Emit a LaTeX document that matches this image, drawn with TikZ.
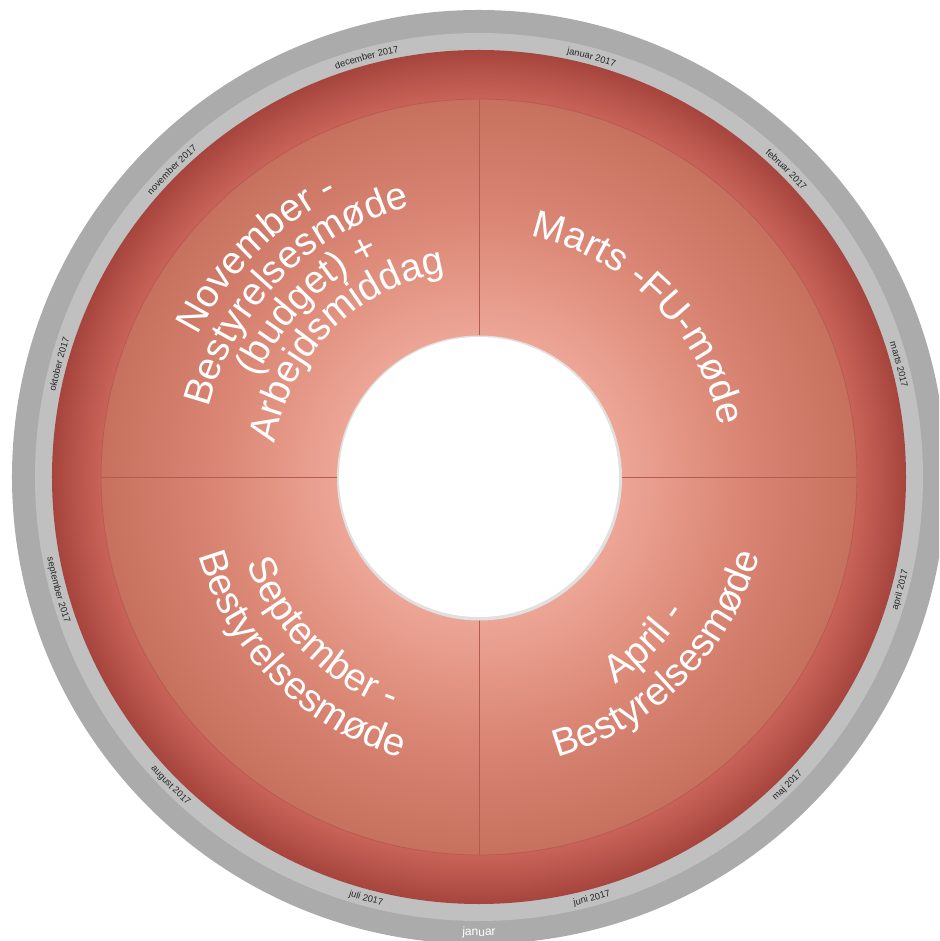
\documentclass[tikz,border=0pt]{standalone}
\usepackage{fontspec}
\setmainfont{Liberation Sans}
\usetikzlibrary{decorations.text}
\pgfdeclareradialshading{diskshade}{\pgfpoint{0bp}{0bp}}{rgb(0bp)=(.93,.62,.56); rgb(18bp)=(.85,.5,.45); rgb(22.1bp)=(.79,.39,.35); rgb(25bp)=(.65,.27,.24); rgb(50bp)=(.65,.27,.24)}
\pgfdeclareradialshading{quadshade}{\pgfpoint{0bp}{0bp}}{rgb(0bp)=(.95,.68,.62); rgb(9.3bp)=(.93,.65,.59); rgb(17bp)=(.86,.53,.46); rgb(25bp)=(.78,.44,.37); rgb(50bp)=(.78,.44,.37)}
\definecolor{ringdark}{RGB}{171,171,171}
\definecolor{ringlight}{RGB}{192,192,192}
\definecolor{divline}{RGB}{180,92,82}
\newcommand\qfont{\fontsize{29}{29}\selectfont\color{white}}
\newcommand\mfont{\fontsize{7}{7}\selectfont\color{black!85}}
\newcommand\bfont{\fontsize{9}{9}\selectfont\color{white}}
% clockwise (upper half) label: angle, radius, format, text
\newcommand\cwlabel[4]{%
  \path[decorate,decoration={text along path,text align=center,text={|#3|#4}}]
    ({#1+90}:#2) arc[start angle={#1+90}, end angle={#1-90}, radius=#2];}
% counterclockwise (lower half) label
\newcommand\ccwlabel[4]{%
  \path[decorate,decoration={text along path,text align=center,text={|#3|#4}}]
    ({#1-90}:#2) arc[start angle={#1-90}, end angle={#1+90}, radius=#2];}
\begin{document}
\begin{tikzpicture}[x=0.75pt,y=0.75pt]
\useasboundingbox (-479,-464) rectangle (460,477);
\clip (-479,-464) rectangle (460,477);
% outer grey rings
\fill[ringdark] (0,0) circle (467);
\fill[ringlight] (0,0) circle (444);
% red disk
\shade[shading=diskshade] (0,0) circle (427);
% quadrant disk
\shade[shading=quadshade] (0,0) circle (378);
\draw[divline, line width=0.6pt] (0,0) circle (378);
\draw[divline, line width=0.6pt] (-378,0) -- (378,0);
\draw[divline, line width=0.6pt] (0,-378) -- (0,378);
% hole
\fill[black!12] (0.5,-1) circle (142.5);
\fill[white] (0,0) circle (140);
% quadrant texts
\cwlabel{135}{315}{\qfont}{November -}
\cwlabel{135}{279}{\qfont}{Bestyrelsesmøde}
\cwlabel{135}{243}{\qfont}{(budget) +}
\cwlabel{135}{207}{\qfont}{Arbejdsmiddag}
\cwlabel{45}{246}{\qfont}{Marts -FU-møde}
\ccwlabel{225}{248}{\qfont}{September -}
\ccwlabel{225}{291}{\qfont}{Bestyrelsesmøde}
\ccwlabel{315}{248}{\qfont}{April -}
\ccwlabel{315}{291}{\qfont}{Bestyrelsesmøde}
% month labels
\cwlabel{75}{432}{\mfont}{januar 2017}
\cwlabel{45}{432}{\mfont}{februar 2017}
\cwlabel{15}{432}{\mfont}{marts 2017}
\ccwlabel{-15}{439}{\mfont}{april 2017}
\ccwlabel{-45}{439}{\mfont}{maj 2017}
\ccwlabel{-75}{439}{\mfont}{juni 2017}
\ccwlabel{-105}{439}{\mfont}{juli 2017}
\ccwlabel{-135}{439}{\mfont}{august 2017}
\ccwlabel{-165}{439}{\mfont}{september 2017}
\cwlabel{165}{432}{\mfont}{oktober 2017}
\cwlabel{135}{432}{\mfont}{november 2017}
\cwlabel{105}{432}{\mfont}{december 2017}
% bottom label on outer ring
\ccwlabel{-90}{459}{\bfont}{januar}
\end{tikzpicture}
\end{document}
